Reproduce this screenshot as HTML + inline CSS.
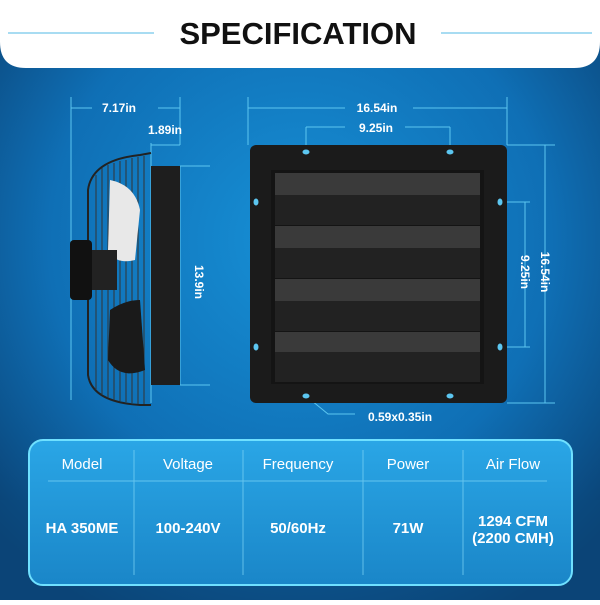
<!DOCTYPE html>
<html><head><style>
body{margin:0;width:600px;height:600px;overflow:hidden;font-family:"Liberation Sans",sans-serif}
</style></head><body>
<svg width="600" height="600" xmlns="http://www.w3.org/2000/svg">
<defs>
<radialGradient id="bg" cx="50%" cy="40%" r="70%">
<stop offset="0" stop-color="#1790d6"/><stop offset="0.6" stop-color="#0f6fb5"/><stop offset="1" stop-color="#0a3f70"/>
</radialGradient>
<linearGradient id="tb" x1="0" y1="0" x2="0" y2="1">
<stop offset="0" stop-color="#2aa6e6"/><stop offset="1" stop-color="#1a86c8"/>
</linearGradient>
</defs>
<rect width="600" height="600" fill="url(#bg)"/>
<rect x="0" y="500" width="600" height="100" fill="#0b4a7e" opacity="0.5"/>
<!-- header -->
<path d="M0 0H600V42Q600 68 574 68H26Q0 68 0 42Z" fill="#fff"/>
<line x1="8" y1="33" x2="154" y2="33" stroke="#a8dcf2" stroke-width="2"/>
<line x1="441" y1="33" x2="592" y2="33" stroke="#a8dcf2" stroke-width="2"/>
<text x="298" y="44" text-anchor="middle" font-size="31" font-weight="bold" fill="#111">SPECIFICATION</text>
<g stroke="#5cc6f0" stroke-width="1" fill="none">
<line x1="71" y1="97" x2="71" y2="400"/><line x1="180" y1="97" x2="180" y2="145"/>
<line x1="71" y1="108" x2="92" y2="108"/><line x1="158" y1="108" x2="180" y2="108"/>
<line x1="151" y1="143" x2="151" y2="403"/><line x1="151" y1="145" x2="180" y2="145"/>
<line x1="180" y1="166" x2="180" y2="385"/><line x1="180" y1="166" x2="210" y2="166"/><line x1="180" y1="385" x2="210" y2="385"/>
<line x1="248" y1="97" x2="248" y2="145"/><line x1="507" y1="97" x2="507" y2="145"/>
<line x1="248" y1="108" x2="345" y2="108"/><line x1="413" y1="108" x2="507" y2="108"/>
<line x1="306" y1="127" x2="306" y2="150"/><line x1="450" y1="127" x2="450" y2="150"/>
<line x1="306" y1="127" x2="345" y2="127"/><line x1="405" y1="127" x2="450" y2="127"/>
<line x1="545" y1="145" x2="545" y2="403"/><line x1="507" y1="145" x2="555" y2="145"/><line x1="507" y1="403" x2="555" y2="403"/>
<line x1="525" y1="202" x2="525" y2="347"/><line x1="500" y1="202" x2="530" y2="202"/><line x1="500" y1="347" x2="530" y2="347"/>
<polyline points="306,396 328,414 355,414"/>
</g>
<g fill="#fff" font-weight="bold" font-size="12" text-anchor="middle">
<text x="119" y="112">7.17in</text><text x="165" y="134">1.89in</text>
<text x="377" y="112">16.54in</text><text x="376" y="132">9.25in</text>
<text x="400" y="421">0.59x0.35in</text>
<text transform="translate(195,282) rotate(90)">13.9in</text>
<text transform="translate(541,272) rotate(90)">16.54in</text>
<text transform="translate(521,272) rotate(90)">9.25in</text>
</g>
<!-- side fan -->
<g>
<path d="M151 153 L140 155 Q92 160 88 190 L88 375 Q92 402 140 405 L151 405" fill="none" stroke="#222" stroke-width="2"/>
<g stroke="#333" stroke-width="1">
<line x1="96" y1="175" x2="96" y2="390"/><line x1="102" y1="168" x2="102" y2="395"/><line x1="108" y1="165" x2="108" y2="398"/><line x1="114" y1="163" x2="114" y2="400"/><line x1="120" y1="161" x2="120" y2="401"/><line x1="126" y1="160" x2="126" y2="402"/><line x1="132" y1="158" x2="132" y2="403"/><line x1="138" y1="157" x2="138" y2="404"/><line x1="144" y1="156" x2="144" y2="404"/>
</g>
<path d="M110 180 Q135 185 140 210 L135 260 Q115 265 108 250Z" fill="#e8e8e8"/>
<path d="M110 310 Q125 300 140 300 L145 370 Q120 380 108 360Z" fill="#1a1a1a"/>
<rect x="70" y="240" width="22" height="60" rx="4" fill="#111"/>
<rect x="92" y="250" width="25" height="40" fill="#222"/>
<rect x="151" y="166" width="29" height="219" fill="#1e1e1e"/>
</g>
<!-- front panel -->
<rect x="250" y="145" width="257" height="258" rx="6" fill="#1b1b1b"/>
<rect x="271" y="170" width="213" height="214" fill="#141414"/>
<g>
<rect x="275" y="173" width="205" height="22" fill="#3a3a3a"/><rect x="275" y="195" width="205" height="30" fill="#222"/>
<rect x="275" y="226" width="205" height="22" fill="#3a3a3a"/><rect x="275" y="248" width="205" height="30" fill="#222"/>
<rect x="275" y="279" width="205" height="22" fill="#3a3a3a"/><rect x="275" y="301" width="205" height="30" fill="#222"/>
<rect x="275" y="332" width="205" height="20" fill="#3a3a3a"/><rect x="275" y="352" width="205" height="30" fill="#222"/>
</g>
<g fill="#5cc6f0">
<ellipse cx="306" cy="152" rx="3.5" ry="2.5"/><ellipse cx="450" cy="152" rx="3.5" ry="2.5"/>
<ellipse cx="256" cy="202" rx="2.5" ry="3.5"/><ellipse cx="500" cy="202" rx="2.5" ry="3.5"/>
<ellipse cx="256" cy="347" rx="2.5" ry="3.5"/><ellipse cx="500" cy="347" rx="2.5" ry="3.5"/>
<ellipse cx="306" cy="396" rx="3.5" ry="2.5"/><ellipse cx="450" cy="396" rx="3.5" ry="2.5"/>
</g>
<!-- table -->
<rect x="29" y="440" width="543" height="145" rx="14" fill="url(#tb)" stroke="#6fe0ff" stroke-width="2"/>
<g stroke="#7fd6f6" stroke-width="1" opacity="0.7">
<line x1="48" y1="481" x2="547" y2="481"/>
<line x1="134" y1="450" x2="134" y2="575"/><line x1="243" y1="450" x2="243" y2="575"/><line x1="363" y1="450" x2="363" y2="575"/><line x1="463" y1="450" x2="463" y2="575"/>
</g>
<g fill="#fff" font-size="15" text-anchor="middle">
<text x="82" y="469">Model</text><text x="188" y="469">Voltage</text><text x="298" y="469">Frequency</text><text x="408" y="469">Power</text><text x="513" y="469">Air Flow</text>
</g>
<g fill="#fff" font-size="15" font-weight="bold" text-anchor="middle">
<text x="82" y="533">HA 350ME</text><text x="188" y="533">100-240V</text><text x="298" y="533">50/60Hz</text><text x="408" y="533">71W</text>
<text x="513" y="526">1294 CFM</text><text x="513" y="543">(2200 CMH)</text>
</g>
</svg>
</body></html>
